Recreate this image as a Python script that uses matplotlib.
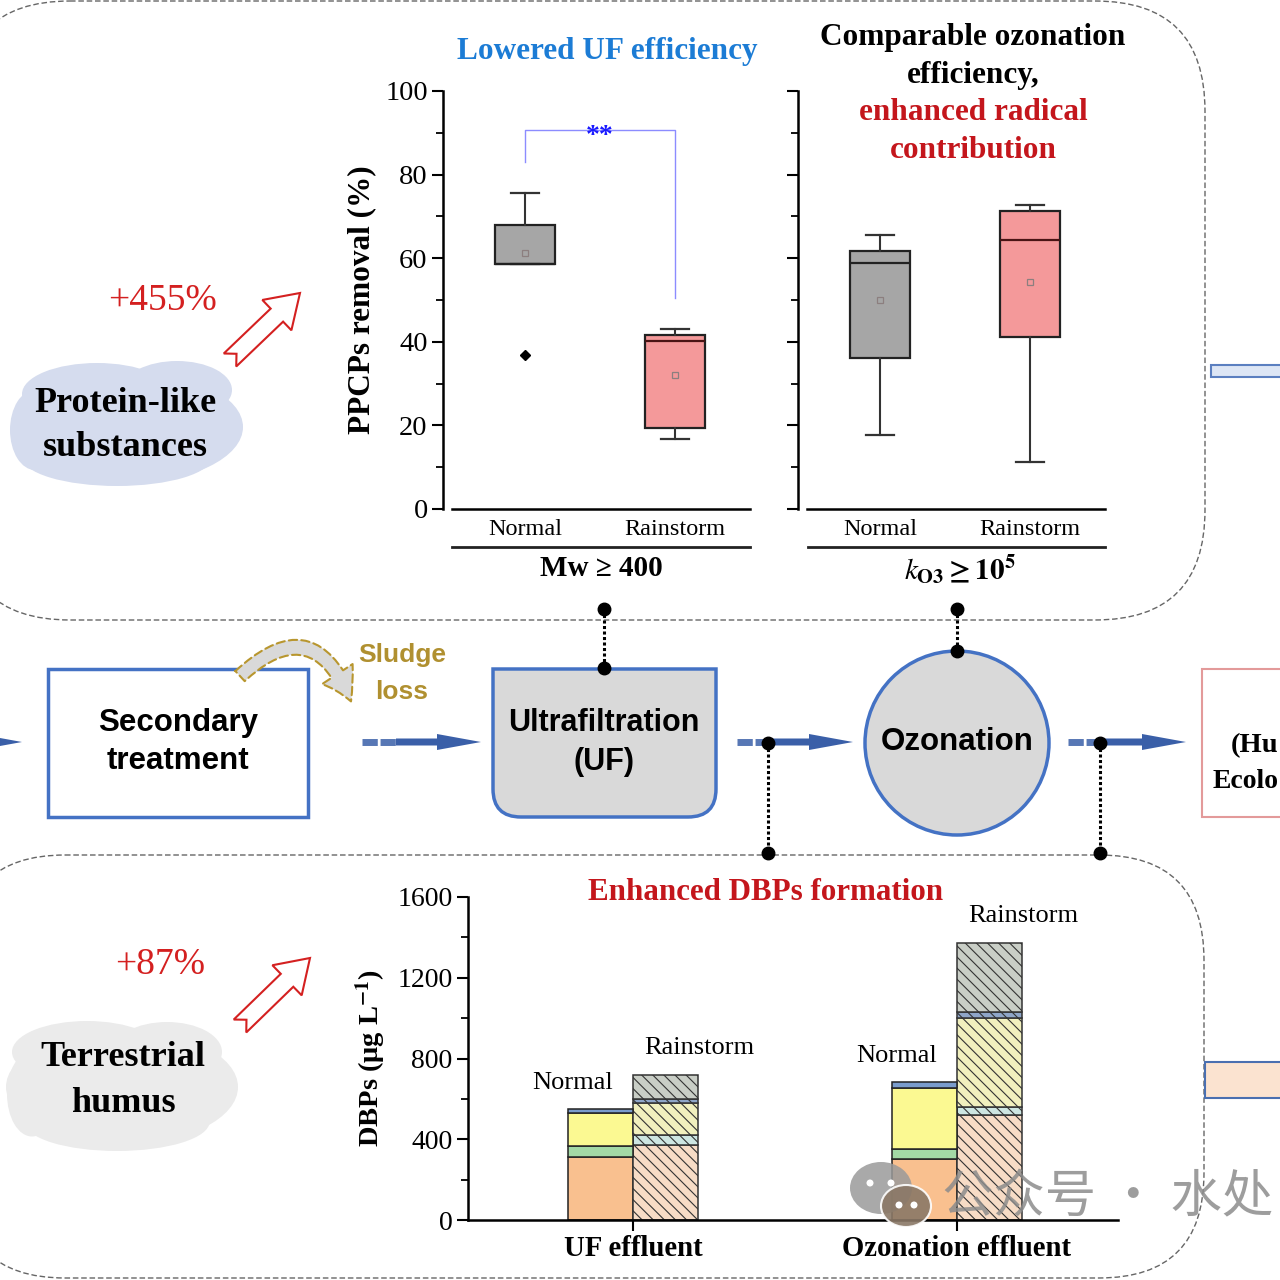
import numpy as np
import matplotlib
matplotlib.use('Agg')
import matplotlib.pyplot as plt
from matplotlib import patches as mp
from matplotlib.path import Path

# ---------------- data ----------------
box_groups = ['Normal', 'Rainstorm']
box_yticks = [0, 20, 40, 60, 80, 100]

uf_whislo = [58.5, 16.7]
uf_q1 = [58.5, 19.4]
uf_med = [58.7, 40.3]
uf_q3 = [68.0, 41.7]
uf_whishi = [75.5, 43.0]
uf_mean = [61.2, 32.1]
uf_fliers = [[36.8], []]

oz_whislo = [17.7, 11.2]
oz_q1 = [36.1, 41.1]
oz_med = [58.9, 64.4]
oz_q3 = [61.8, 71.4]
oz_whishi = [65.6, 72.7]
oz_mean = [50.0, 54.3]
oz_fliers = [[], []]

sig_bracket_y = [83.0, 90.7, 90.7, 50.5]

dbp_groups = ['UF effluent', 'Ozonation effluent']
dbp_yticks = [0, 400, 800, 1200, 1600]
# stacked layers, bottom to top: values for [UF, Ozonation]
orange_normal = [310, 300]
green_normal = [57, 50]
yellow_normal = [163, 306]
blue_normal = [22, 30]
grey_normal = [0, 0]
orange_rain = [371, 520]
green_rain = [48, 40]
yellow_rain = [160, 440]
blue_rain = [20, 30]
grey_rain = [119, 342]

# ---------------- style ----------------
SERIF = ['Liberation Serif', 'DejaVu Serif']
SANS = ['Liberation Sans', 'DejaVu Sans']
plt.rcParams['font.family'] = SERIF
plt.rcParams['mathtext.fontset'] = 'stix'
plt.rcParams['hatch.linewidth'] = 0.8

BLUE = '#4472c4'
ARROWBLUE = '#3a5fa8'
RED = '#c4161c'

fig = plt.figure(figsize=(12.8, 12.8), dpi=100)
W = H = 1280.0


def rect(x0, y0, x1, y1):
    return [x0 / W, 1 - y1 / H, (x1 - x0) / W, (y1 - y0) / H]


# ---------------- overlay (diagram) ----------------
ov = fig.add_axes([0, 0, 1, 1], zorder=0)
ov.set_xlim(0, W)
ov.set_ylim(H, 0)
ov.axis('off')

dash = (0, (4, 2))
ov.add_patch(mp.FancyBboxPatch((-40, 1), 1245, 619, boxstyle='round,pad=0,rounding_size=110',
                               fc='white', ec='#666666', lw=1.0, ls=dash))
ov.add_patch(mp.FancyBboxPatch((-40, 855), 1244, 423, boxstyle='round,pad=0,rounding_size=105',
                               fc='white', ec='#666666', lw=1.0, ls=dash))

# clouds
def cloud(cx, cy, color, parts):
    for dx, dy, w, h in parts:
        ov.add_patch(mp.Ellipse((cx + dx, cy + dy), w, h, fc=color, ec='none'))

cloud(127, 422, '#d5dcee', [(0, 5, 232, 112), (-30, -28, 150, 62), (50, -32, 110, 58),
                            (-10, 35, 190, 58), (-92, 8, 50, 80)])
cloud(122, 1084, '#ebebeb', [(0, 3, 232, 115), (-35, -32, 150, 62), (45, -32, 110, 60),
                             (-5, 38, 185, 58), (-90, 10, 50, 85)])

ov.text(125, 403, 'Protein-like', ha='center', va='center', fontsize=26, fontweight='bold')
ov.text(125, 447, 'substances', ha='center', va='center', fontsize=26, fontweight='bold')
ov.text(123, 1058, 'Terrestrial', ha='center', va='center', fontsize=26, fontweight='bold')
ov.text(123, 1103, 'humus', ha='center', va='center', fontsize=26, fontweight='bold')
ov.text(163, 301, '+455%', ha='center', va='center', fontsize=27, color='#d42020')
ov.text(160, 965, '+87%', ha='center', va='center', fontsize=27, color='#d42020')


def hollow_arrow(x0, y0, x1, y1):
    d = np.array([x1 - x0, y1 - y0], float)
    L = np.hypot(*d)
    u = d / L
    n = np.array([-u[1], u[0]])
    loc = [(0, -9), (L - 32, -9), (L - 32, -21), (L, 0), (L - 32, 21), (L - 32, 9), (0, 9), (9, 0)]
    pts = [np.array([x0, y0]) + a * u + b * n for a, b in loc]
    ov.add_patch(mp.Polygon(pts, closed=True, fc='white', ec='#d42020', lw=1.5))


hollow_arrow(230, 360, 300, 293)
hollow_arrow(240, 1026, 310, 958)

# flow arrows
def flow_arrow(x0, x1, y):
    ov.plot([x0, x0 + 34], [y, y], color=ARROWBLUE, lw=5, ls=(0, (2.2, 0.4)), solid_capstyle='butt',
            alpha=0.85)
    ov.add_patch(mp.FancyArrow(x0 + 34, y, x1 - x0 - 34, 0, width=7, head_width=16, head_length=44,
                               length_includes_head=True, fc=ARROWBLUE, ec='none'))


ov.add_patch(mp.FancyArrow(-60, 742, 82, 0, width=7, head_width=16, head_length=44,
                           length_includes_head=True, fc=ARROWBLUE, ec='none'))
flow_arrow(362, 481, 742)
flow_arrow(737, 853, 742)
flow_arrow(1068, 1186, 742)

# secondary treatment box
ov.add_patch(mp.Rectangle((48, 669), 260, 148, fc='white', ec=BLUE, lw=2.5))
ov.text(178, 723, 'Secondary', ha='center', va='center', fontsize=22.5, fontweight='bold', family=SANS)
ov.text(178, 761, 'treatment', ha='center', va='center', fontsize=22.5, fontweight='bold', family=SANS)

# sludge loss arrow
ov.add_patch(mp.FancyArrowPatch((238, 678), (352, 704), connectionstyle='arc3,rad=-0.75',
                                arrowstyle='simple,head_length=1.0,head_width=1.2,tail_width=0.45',
                                mutation_scale=22, fc='#d9d9d9', ec='#b8962e', lw=1.5, ls=(0, (4, 2))))
ov.text(402, 655, 'Sludge', ha='center', va='center', fontsize=19, fontweight='bold', family=SANS,
        color='#b09030')
ov.text(402, 692, 'loss', ha='center', va='center', fontsize=19, fontweight='bold', family=SANS,
        color='#b09030')

# UF tank
r = 28
verts = [(493, 669), (716, 669), (716, 817 - r), (716, 817), (716 - r, 817), (493 + r, 817),
         (493, 817), (493, 817 - r), (493, 669)]
codes = [Path.MOVETO, Path.LINETO, Path.LINETO, Path.CURVE3, Path.CURVE3, Path.LINETO,
         Path.CURVE3, Path.CURVE3, Path.CLOSEPOLY]
ov.add_patch(mp.PathPatch(Path(verts, codes), fc='#d9d9d9', ec=BLUE, lw=2.5))
ov.text(604, 723, 'Ultrafiltration', ha='center', va='center', fontsize=22, fontweight='bold', family=SANS)
ov.text(604, 762, '(UF)', ha='center', va='center', fontsize=22, fontweight='bold', family=SANS)

# ozonation circle
ov.add_patch(mp.Circle((957, 743), 92, fc='#d9d9d9', ec=BLUE, lw=2.5))
ov.text(957, 742, 'Ozonation', ha='center', va='center', fontsize=22.5, fontweight='bold', family=SANS)

# connectors
for (xa, ya), (xb, yb) in [((604, 609), (604, 668)), ((957, 609), (957, 651)),
                           ((768, 743), (768, 853)), ((1100, 743), (1100, 853))]:
    ov.plot([xa, xb], [ya, yb], color='black', lw=2.2, ls=(0, (1, 0.8)))
    ov.plot([xa, xb], [ya, yb], 'o', color='black', ms=9)

# right partial elements
ov.add_patch(mp.Rectangle((1202, 669), 140, 148, fc='white', ec='#e39a9a', lw=1.5))
ov.text(1231, 746, '(Hu', ha='left', va='center', fontsize=20.5, fontweight='bold')
ov.text(1213, 782, 'Ecolo', ha='left', va='center', fontsize=20, fontweight='bold')
ov.add_patch(mp.Rectangle((1211, 365), 100, 12, fc='#dde6f5', ec='#5b7fc0', lw=1.5))
ov.add_patch(mp.Rectangle((1205, 1062), 100, 36, fc='#fbe3d0', ec='#4a6fb0', lw=1.5))

# titles
ov.text(607, 52, 'Lowered UF efficiency', ha='center', va='center', fontsize=22.5, fontweight='bold',
        color='#1c7cd5')
ov.text(973, 38, 'Comparable ozonation', ha='center', va='center', fontsize=22.5, fontweight='bold')
ov.text(973, 75, 'efficiency,', ha='center', va='center', fontsize=22.5, fontweight='bold')
ov.text(973, 112, 'enhanced radical', ha='center', va='center', fontsize=22.5, fontweight='bold', color=RED)
ov.text(973, 150, 'contribution', ha='center', va='center', fontsize=22.5, fontweight='bold', color=RED)
ov.text(766, 892, 'Enhanced DBPs formation', ha='center', va='center', fontsize=22.3, fontweight='bold',
        color=RED)

# axis labels / group labels
ov.text(362, 300, 'PPCPs removal (%)', ha='center', va='center', rotation=90, fontsize=22.5,
        fontweight='bold')
ov.text(371, 1058, r'DBPs (μg L$^{\mathbf{-1}}$)', ha='center', va='center', rotation=90, fontsize=20.5,
        fontweight='bold')
ov.plot([452, 750], [547, 547], color='#222222', lw=2)
ov.plot([808, 1105], [547, 547], color='#222222', lw=2)
ov.text(601, 569, 'Mw ≥ 400', ha='center', va='center', fontsize=21, fontweight='bold')
ov.text(960, 569, r'$\mathit{k}_{\mathbf{O3}}\mathbf{\geq 10^5}$', ha='center', va='center',
        fontsize=21)

# ---------------- box plots ----------------
def make_stats(wl, q1, med, q3, wh, mean, fl):
    return [dict(whislo=wl[i], q1=q1[i], med=med[i], q3=q3[i], whishi=wh[i], mean=mean[i],
                 fliers=fl[i]) for i in range(len(wl))]


box_colors = ['#a6a6a6', '#f4999a']
med_colors = ['#222222', '#4a1414']


def box_axes(x0, stats, show_labels):
    xl = -(525 - 443) / 150.0
    ax = fig.add_axes(rect(x0, 91, x0 + 307, 509), zorder=1)
    ax.patch.set_alpha(0)
    bp = ax.bxp(stats, positions=[0, 1], widths=0.4, patch_artist=True, showmeans=True,
                capwidths=0.19,
                boxprops=dict(edgecolor='#222222', linewidth=1.6),
                whiskerprops=dict(color='#333333', linewidth=1.5),
                capprops=dict(color='#333333', linewidth=1.6),
                meanprops=dict(marker='s', markersize=4.5, markerfacecolor='none',
                               markeredgecolor='#8c7f7f', markeredgewidth=0.9),
                flierprops=dict(marker='D', markersize=5, markerfacecolor='black',
                                markeredgecolor='black'),
                medianprops=dict(linewidth=1.6))
    for patch, c in zip(bp['boxes'], box_colors):
        patch.set_facecolor(c)
    for m, c in zip(bp['medians'], med_colors):
        m.set_color(c)
    ax.set_xlim(xl, 1.5)
    ax.set_ylim(0, 100)
    ax.set_yticks(box_yticks)
    ax.set_yticks(np.arange(10, 100, 20), minor=True)
    ax.set_xticks([0, 1])
    ax.set_xticklabels(box_groups, fontsize=17.5)
    ax.tick_params(axis='x', length=0, pad=7)
    ax.tick_params(axis='y', which='major', length=8, width=1.5, labelsize=20.5, pad=3,
                   labelleft=show_labels)
    ax.tick_params(axis='y', which='minor', length=5, width=1.3)
    for s in ['top', 'right']:
        ax.spines[s].set_visible(False)
    ax.spines['left'].set_linewidth(1.8)
    ax.spines['bottom'].set_linewidth(1.8)
    ax.spines['bottom'].set_bounds(-(525 - 452) / 150.0, 1.5)
    return ax


ax1 = box_axes(443, make_stats(uf_whislo, uf_q1, uf_med, uf_q3, uf_whishi, uf_mean, uf_fliers), True)
ax1.plot([0, 0, 1, 1], sig_bracket_y, color='#8c8cff', lw=1.0)
ax1.text(0.5, 87.6, '**', ha='center', va='baseline', fontsize=20, fontweight='bold', color='#1a1aff')

ax2 = box_axes(798, make_stats(oz_whislo, oz_q1, oz_med, oz_q3, oz_whishi, oz_mean, oz_fliers), False)

# ---------------- stacked bars ----------------
ax3 = fig.add_axes(rect(468, 897, 1118, 1220), zorder=1)
ax3.patch.set_alpha(0)
x = np.arange(len(dbp_groups))
w = 0.2
normal_layers = [orange_normal, green_normal, yellow_normal, blue_normal, grey_normal]
rain_layers = [orange_rain, green_rain, yellow_rain, blue_rain, grey_rain]
normal_cols = ['#f9c08f', '#a3d9a5', '#fbf992', '#7a9ccc', '#c0c4bc']
rain_cols = ['#f7dcc6', '#cde6e2', '#f1f0be', '#8fa6c8', '#c9cec6']
bn = np.zeros(len(x))
br = np.zeros(len(x))
for vn, vr, cn, cr in zip(normal_layers, rain_layers, normal_cols, rain_cols):
    vn = np.array(vn, float)
    vr = np.array(vr, float)
    m = vn > 0
    ax3.bar(x[m] - w / 2, vn[m], w, bottom=bn[m], color=cn, edgecolor='#222222', linewidth=1.1)
    ax3.bar(x + w / 2, vr, w, bottom=br, color=cr, edgecolor='#333333', linewidth=1.1, hatch='\\\\\\')
    bn += vn
    br += vr
for i in range(len(x)):
    ax3.text(x[i] - w / 2 - 0.085, bn[i] + 125, 'Normal', ha='center', va='center', fontsize=19)
    ax3.text(x[i] + w / 2 + 0.105, br[i] + 132, 'Rainstorm', ha='center', va='center', fontsize=19)

ax3.set_xlim(-(633 - 468) / 324.0, 1 + (1118 - 957) / 324.0)
ax3.set_ylim(0, 1600)
ax3.set_yticks(dbp_yticks)
ax3.set_yticks(np.arange(200, 1600, 400), minor=True)
ax3.set_xticks(x)
ax3.set_xticklabels(dbp_groups, fontsize=20.7, fontweight='bold')
ax3.tick_params(axis='x', length=8, width=1.5, pad=3)
ax3.tick_params(axis='y', which='major', length=8, width=1.5, labelsize=20, pad=3)
ax3.tick_params(axis='y', which='minor', length=5, width=1.3)
for s in ['top', 'right']:
    ax3.spines[s].set_visible(False)
ax3.spines['left'].set_linewidth(1.8)
ax3.spines['bottom'].set_linewidth(1.8)

# ---------------- watermark ----------------
wm = fig.add_axes([0, 0, 1, 1], zorder=5)
wm.set_xlim(0, W)
wm.set_ylim(H, 0)
wm.axis('off')
wm.add_patch(mp.Ellipse((881, 1188), 62, 52, fc='#9a9a9a', ec='none', alpha=0.85))
wm.add_patch(mp.Ellipse((906, 1206), 50, 42, fc='#8a7866', ec='white', lw=1.5, alpha=0.9))
for px, py in [(870, 1183), (891, 1183), (899, 1205), (914, 1205)]:
    wm.add_patch(mp.Circle((px, py), 3.5, fc='white', ec='none'))
wm.text(942, 1198, '公众号 · 水处', ha='left', va='center', fontsize=37, color='#8c8c8c', alpha=0.85,
        family=['Noto Sans CJK SC', 'DejaVu Sans'])

fig.savefig('out.png', dpi=100)
